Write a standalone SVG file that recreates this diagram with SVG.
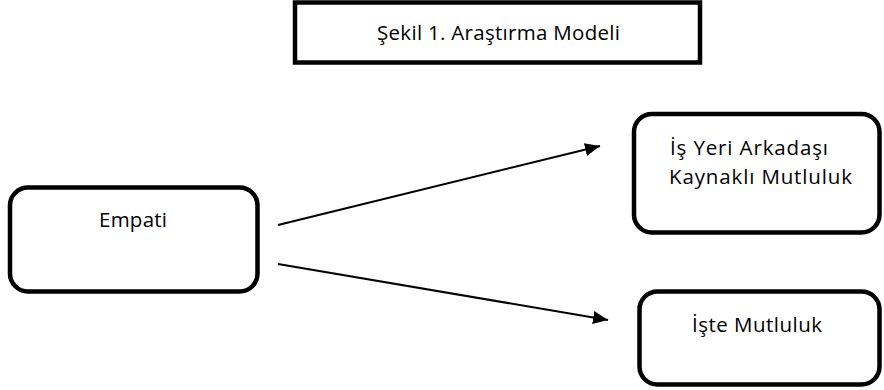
<svg xmlns="http://www.w3.org/2000/svg" width="884" height="390" viewBox="0 0 884 390">
  <style>
    .box { fill: #fff; stroke: #000; stroke-width: 4.5; }
    .title { fill: #fff; stroke: #000; stroke-width: 4.5; }
    .label { font-family: "Open Sans", "Noto Sans", sans-serif; font-size: 20.5px; fill: #000; text-anchor: middle; }
    .edge { stroke: #000; stroke-width: 2; fill: none; }
  </style>
  <defs>
    <marker id="arrow" markerUnits="userSpaceOnUse" markerWidth="16" markerHeight="14" refX="15" refY="6.5" orient="auto">
      <path d="M0,0 L15,6.5 L0,13 Z" fill="#000"/>
    </marker>
  </defs>
  <rect width="884" height="390" fill="#fff"/>

  <g id="title">
    <rect class="title" x="295" y="2.5" width="405" height="60"/>
    <text class="label" x="498.5" y="40" textLength="243">Şekil 1. Araştırma Modeli</text>
  </g>

  <g id="empati">
    <rect class="box" x="10" y="187.5" width="247.5" height="104" rx="18"/>
    <text class="label" x="133" y="227" textLength="68">Empati</text>
  </g>

  <g id="isyeri-arkadasi">
    <rect class="box" x="634" y="114" width="245.5" height="118.5" rx="18"/>
    <text class="label" x="749" y="155" textLength="158">İş Yeri Arkadaşı</text>
    <text class="label" x="760.5" y="184" textLength="183">Kaynaklı Mutluluk</text>
  </g>

  <g id="iste-mutluluk">
    <rect class="box" x="639.5" y="291.5" width="240" height="93" rx="18"/>
    <text class="label" x="757" y="332" textLength="130">İşte Mutluluk</text>
  </g>

  <g id="connectors">
    <line class="edge" x1="278" y1="225" x2="600" y2="146" marker-end="url(#arrow)"/>
    <line class="edge" x1="278" y1="264" x2="608" y2="320" marker-end="url(#arrow)"/>
  </g>
</svg>
